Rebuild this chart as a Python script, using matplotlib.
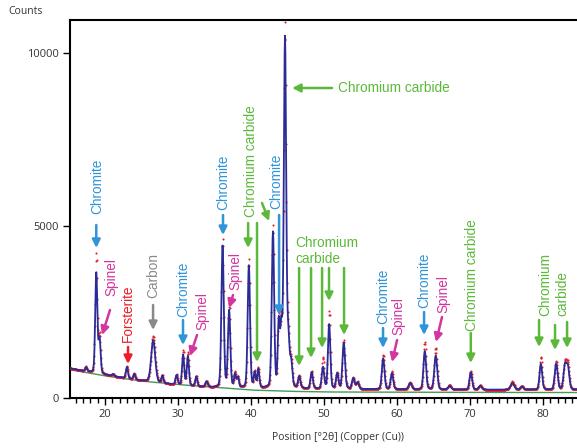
import numpy as np
import matplotlib
matplotlib.use('Agg')
import matplotlib.pyplot as plt

# Background levels (2theta, counts)
bg_pos = [15.2, 17.5, 20, 22.5, 25, 27.5, 30, 32.5, 35, 40, 45, 50, 55, 60, 65, 70, 75, 80, 88]
bg_data = [860, 760, 670, 580, 500, 430, 380, 330, 300, 280, 270, 260, 255, 250, 245, 240, 240, 240, 240]
bg_fit_pos = [15.2, 20, 25, 30, 35, 40, 45, 50, 60, 70, 88]
bg_fit = [820, 640, 490, 390, 310, 230, 195, 175, 168, 162, 158]

# Peak list: position (deg 2theta), fitted height, observed height, FWHM
peak_pos = [17.4, 18.8, 19.25, 21.1, 23.0, 24.0, 26.6, 27.85, 29.8, 30.7, 31.35, 32.5, 33.9,
            36.1, 37.0, 37.8, 38.2, 39.7, 40.5, 41.0, 43.0, 43.8, 44.15, 44.65, 45.1, 45.5,
            46.6, 48.3, 49.85, 50.7, 51.8, 52.7, 54.0, 54.6, 58.1, 59.3, 61.8, 63.8, 65.3,
            67.2, 70.1, 71.4, 75.8, 77.1, 79.7, 81.8, 83.0, 83.4]
peak_calc = [120, 2900, 1000, 60, 330, 165, 1220, 210, 270, 880, 850, 280, 155,
             4100, 2220, 380, 290, 3550, 430, 530, 4500, 1850, 1650, 10100, 1350, 680,
             330, 470, 620, 1870, 440, 1330, 310, 190, 890, 455, 180, 1110, 980,
             105, 500, 105, 185, 85, 750, 750, 680, 630]
peak_obs = [140, 3450, 1100, 70, 360, 180, 1330, 230, 290, 1000, 950, 300, 170,
            4300, 2400, 420, 310, 3720, 470, 570, 4690, 1950, 1750, 10500, 1450, 720,
            350, 500, 900, 2240, 470, 1400, 330, 210, 1000, 520, 200, 1380, 1200,
            130, 530, 130, 240, 100, 950, 820, 760, 700]
peak_fwhm = [0.32, 0.34, 0.34, 0.3, 0.34, 0.32, 0.65, 0.32, 0.34, 0.34, 0.34, 0.34, 0.4,
             0.38, 0.38, 0.32, 0.32, 0.38, 0.32, 0.32, 0.38, 0.32, 0.32, 0.38, 0.38, 0.38,
             0.38, 0.38, 0.38, 0.38, 0.38, 0.42, 0.42, 0.42, 0.42, 0.42, 0.5, 0.42, 0.46,
             0.5, 0.42, 0.5, 0.6, 0.5, 0.42, 0.46, 0.46, 0.46]

# Phase labels: text, colour, text x, text y, rotation, arrows [(x0,y0,x1,y1)]
C_CHR = '#2f95d8'
C_SPI = '#d2369f'
C_FOR = '#ee1c25'
C_CAR = '#8a8a8a'
C_CC = '#5cb83a'
labels = [
    ('Chromite', C_CHR, 18.9, 6145, 90, [(18.8, 5015, 18.8, 4350)]),
    ('Spinel', C_SPI, 20.9, 3510, 90, [(20.68, 2550, 19.59, 1826)]),
    ('Forsterite', C_FOR, 23.15, 2460, 90, [(23.15, 1478, 23.15, 985)]),
    ('Carbon', C_CAR, 26.58, 3565, 90, [(26.58, 2696, 26.58, 1971)]),
    ('Chromite', C_CHR, 30.68, 3145, 90, [(30.68, 2261, 30.68, 1536)]),
    ('Spinel', C_SPI, 33.29, 2522, 90, [(32.6, 1826, 31.64, 1217)]),
    ('Chromite', C_CHR, 36.16, 6261, 90, [(36.16, 5304, 36.16, 4725)]),
    ('Spinel', C_SPI, 37.8, 3681, 90, [(37.53, 2986, 37.0, 2609)]),
    ('Chromium carbide', C_CC, 40.0, 6870, 90, [(39.6, 5072, 39.6, 4348),
                                                 (40.82, 5072, 40.82, 1043),
                                                 (41.5, 5652, 42.47, 5130)]),
    ('Chromite', C_CHR, 43.42, 6275, 90, [(43.84, 5304, 43.84, 2406)]),
    ('Chromium carbide', C_CC, 51.92, 8986, 0, [(51.1, 8986, 45.62, 8986)]),
    ('Chromium\ncarbide', C_CC, 46.03, 4261, 0, [(46.58, 3768, 46.58, 928),
                                                  (48.22, 3768, 48.22, 1159),
                                                  (49.73, 3768, 49.73, 1449),
                                                  (50.68, 3768, 50.68, 2812),
                                                  (52.74, 3768, 52.74, 1826)]),
    ('Chromite', C_CHR, 58.08, 2957, 90, [(58.08, 2029, 58.08, 1449)]),
    ('Spinel', C_SPI, 60.14, 2377, 90, [(60.0, 1681, 59.32, 1043)]),
    ('Chromite', C_CHR, 63.7, 3420, 90, [(63.7, 2493, 63.7, 1826)]),
    ('Spinel', C_SPI, 66.3, 3014, 90, [(66.16, 2348, 65.34, 1623)]),
    ('Chromium carbide', C_CC, 70.27, 3565, 90, [(70.1, 1884, 70.1, 1014)]),
    ('Chromium', C_CC, 80.27, 3304, 90, [(79.45, 2261, 79.45, 1478)]),
    ('carbide', C_CC, 82.6, 3043, 90, [(81.64, 2116, 81.64, 1391),
                                       (83.29, 2203, 83.29, 1449)]),
]


def pattern(x, heights):
    y = np.interp(x, bg_pos, bg_data)
    for p, h, w in zip(peak_pos, heights, peak_fwhm):
        d = (x - p) / w
        g = np.exp(-4 * np.log(2) * d ** 2)
        lor = 1.0 / (1.0 + 4 * d ** 2)
        y = y + h * (0.8 * g + 0.2 * lor)
    return y


tt = np.arange(15.2, 85.0, 0.05)
y_calc = pattern(tt, peak_calc)
y_obs = pattern(tt, peak_obs)
y_bg = np.interp(tt, bg_fit_pos, bg_fit)

fig = plt.figure(figsize=(5.77, 4.48), dpi=100, facecolor='white')
ax = fig.add_axes([70 / 577, 50 / 448, 530 / 577, 378 / 448])
ax.set_xlim(15.2, 87.8)
ax.set_ylim(0, 10957)

ax.plot(tt, y_bg, color='#3f9a5c', lw=1.0, zorder=2)
ax.plot(tt, y_obs, '.', color='#e3202a', ms=3.0, mew=0, zorder=3)
ax.plot(tt, y_calc, color='#2b2b98', lw=1.3, zorder=4)

lab_font = ['Liberation Sans', 'DejaVu Sans']
for text, col, tx, ty, rot, arrows in labels:
    if rot == 90:
        ax.text(tx, ty, text, color=col, rotation=90, ha='center', va='center',
                fontsize=9.8, family=lab_font, zorder=6)
    else:
        ax.text(tx, ty, text, color=col, ha='left', va='center',
                fontsize=9.8, family=lab_font, linespacing=1.15, zorder=6)
    for x0, y0, x1, y1 in arrows:
        ax.annotate('', xy=(x1, y1), xytext=(x0, y0),
                    arrowprops=dict(arrowstyle='-|>', color=col, lw=1.8,
                                    mutation_scale=12, shrinkA=0, shrinkB=0),
                    zorder=6)

ax.set_yticks([0, 5000, 10000])
ax.set_xticks([20, 30, 40, 50, 60, 70, 80])
ax.set_xticks(np.arange(16, 88, 1), minor=True)
tick_font = ['Open Sans', 'DejaVu Sans']
for lab in ax.get_xticklabels() + ax.get_yticklabels():
    lab.set_family(tick_font)
ax.tick_params(axis='both', which='major', direction='out', length=5, width=1,
               labelsize=8, labelcolor='#333333', pad=3)
ax.tick_params(axis='x', which='minor', direction='out', length=3.5, width=1)
for s in ['left', 'bottom', 'top']:
    ax.spines[s].set_linewidth(1.5)
ax.spines['right'].set_visible(False)

fig.text(8 / 577, 1 - 12 / 448, 'Counts', fontsize=7.5, family=tick_font,
         color='#333333', va='center', ha='left')
fig.text(338 / 577, 1 - 437 / 448, 'Position [°2θ] (Copper (Cu))', fontsize=7.5,
         family=tick_font, color='#333333', va='center', ha='center')

fig.savefig('out.png', dpi=100)
